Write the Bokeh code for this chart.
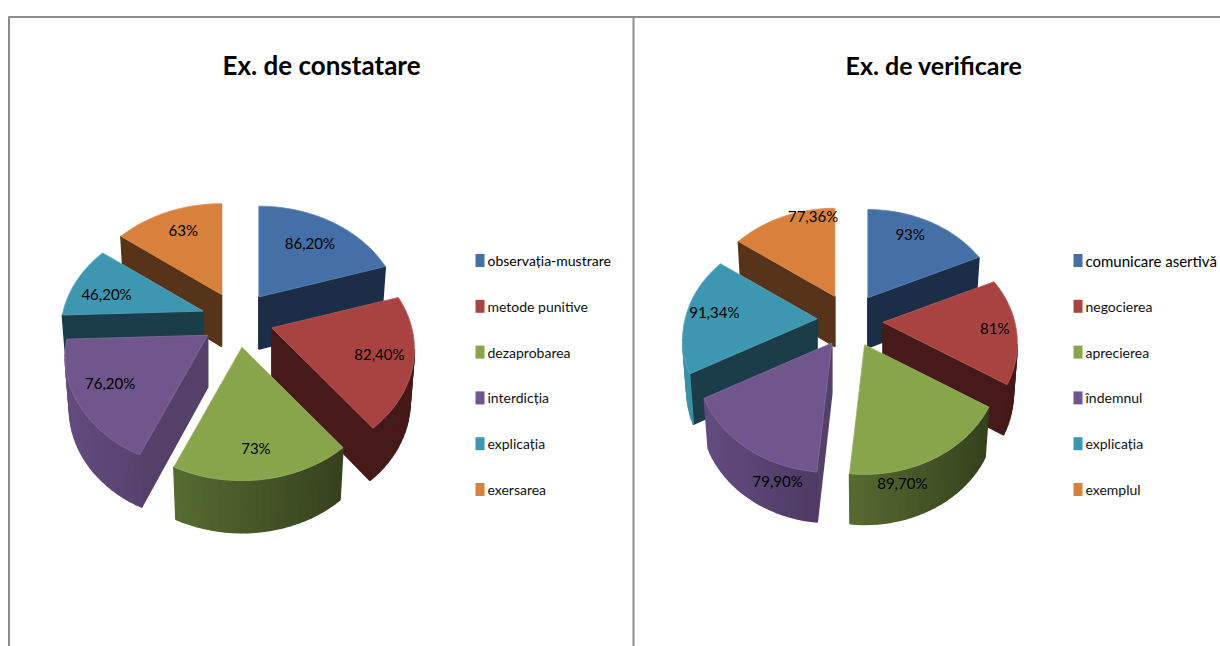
import math
from bokeh.plotting import figure
from bokeh.embed import file_html
from bokeh.resources import INLINE
from bokeh.core.properties import value

# ---- data
title_a = "Ex. de constatare"
cats_a = ["observația-mustrare", "metode punitive", "dezaprobarea", "interdicția", "explicația", "exersarea"]
vals_a = [86.20, 82.40, 73, 76.20, 46.20, 63]
labs_a = ["86,20%", "82,40%", "73%", "76,20%", "46,20%", "63%"]

title_b = "Ex. de verificare"
cats_b = ["comunicare asertivă", "negocierea", "aprecierea", "îndemnul", "explicația", "exemplul"]
vals_b = [93, 81, 89.70, 79.90, 91.34, 77.36]
labs_b = ["93%", "81%", "89,70%", "79,90%", "91,34%", "77,36%"]

# ---- styles
top_col = ["#4570a7", "#a84342", "#88a54c", "#70568c", "#3e97b0", "#d8813d"]
face_col = ["#1b2d47", "#461a19", "#38431e", "#544068", "#1b3d49", "#57331a"]
wall_l = ["#1b2d47", "#461a19", "#566b31", "#634c7f", "#3d90a8", "#57331a"]
wall_r = ["#1b2d47", "#461a19", "#36411d", "#4b3860", "#2f7a90", "#57331a"]
draw_order = [5, 0, 4, 1, 3, 2]
FONT = "Lato"
GRID = "#8c8c8c"

p = figure(width=1220, height=646, x_range=(0, 1220), y_range=(646, 0),
           output_backend="svg", toolbar_location=None, min_border=0,
           outline_line_color=None, background_fill_color="white")
p.axis.visible = False
p.grid.visible = False

# frame
p.line([8, 1220], [16.5, 16.5], line_color=GRID, line_width=2)
p.line([8.5, 8.5], [16, 646], line_color=GRID, line_width=2)
p.line([633, 633], [16, 646], line_color=GRID, line_width=2)


def hexmix(c1, c2, t):
    a = [int(c1[i:i + 2], 16) for i in (1, 3, 5)]
    b = [int(c2[i:i + 2], 16) for i in (1, 3, 5)]
    return "#%02x%02x%02x" % tuple(round(x + (y - x) * t) for x, y in zip(a, b))


def pie(vals, labs, cx, cy, ex, ey, rx, ry, depth, label_r, label_turn):
    k, shrink = 0.19, 0.97
    total = sum(vals)
    edges = [0.0]
    for v in vals:
        edges.append(edges[-1] + v / total * 360)

    def proj(r, deg):
        X = r * math.sin(math.radians(deg))
        Y = r * math.cos(math.radians(deg))
        w = 1 + k * Y
        return rx * X / w, -ry * Y / w, Y

    tx, ty = [], []
    for i in draw_order:
        a0, a1 = edges[i], edges[i + 1]
        mid = (a0 + a1) / 2
        ax = cx + ex * math.sin(math.radians(mid))
        ay = cy - ey * math.cos(math.radians(mid))
        n = max(2, int((a1 - a0) / 2.5))
        angles = [a0 + (a1 - a0) * j / n for j in range(n + 1)]
        top, bot = [(ax, ay)], [(ax, ay + depth)]
        for d in angles:
            dx, dy, Y = proj(1, d)
            top.append((ax + dx, ay + dy))
            bot.append((ax + dx * shrink, ay + dy * shrink + depth * (1 - 0.08 * Y)))
        top.append(top[0])
        bot.append(bot[0])
        xs = [q[0] for q in top]
        xlo, xhi = min(xs), max(xs)
        rim_edges = range(1, len(top) - 2)
        for j in range(len(top) - 1):
            if top[j + 1][0] - top[j][0] >= 0:
                continue  # faces away from the viewer
            if j in rim_edges:
                t = (((top[j][0] + top[j + 1][0]) / 2) - xlo) / max(xhi - xlo, 1)
                col = hexmix(wall_l[i], wall_r[i], t)
            else:
                col = face_col[i]
            qx = [top[j][0], top[j + 1][0], bot[j + 1][0], bot[j][0]]
            qy = [top[j][1], top[j + 1][1], bot[j + 1][1], bot[j][1]]
            p.patch(qx, qy, fill_color=col, line_color=col, line_width=1.5)
        p.patch([q[0] for q in top], [q[1] for q in top], fill_color=top_col[i],
                line_color=hexmix(top_col[i], "#ffffff", 0.15), line_width=0.8)
    for i in range(len(vals)):
        mid = (edges[i] + edges[i + 1]) / 2
        ax = cx + ex * math.sin(math.radians(mid))
        ay = cy - ey * math.cos(math.radians(mid))
        dx, dy, _ = proj(label_r[i], mid + label_turn[i])
        tx.append(ax + dx)
        ty.append(ay + dy)
    p.text(tx, ty, text=labs, text_font=value(FONT), text_font_size="15px",
           text_color="#000000", text_align="center", text_baseline="middle")


pie(vals_a, labs_a, 237, 319, 36, 28, 140, 108, 52,
    [0.68, 0.77, 0.80, 0.76, 0.73, 0.74], [0, 0, 1, 2, -4.5, 2])
pie(vals_b, labs_b, 849.5, 320, 33, 27, 132, 105, 50,
    [0.78, 0.84, 1.08, 1.10, 0.79, 0.92], [-5, 0, 14, -16, 1, 15])

# titles
p.text([321], [64], text=[title_a], text_font=value(FONT), text_font_style="bold",
       text_font_size="26px", text_color="#000000", text_align="center", text_baseline="middle")
p.text([933.5], [64], text=[title_b], text_font=value(FONT), text_font_style="bold",
       text_font_size="25px", text_color="#000000", text_align="center", text_baseline="middle")


def legend(cats, box_x, text_x, first_size):
    n = len(cats)
    ys = [260 + 45.8 * i for i in range(n)]
    p.quad(left=[box_x] * n, right=[box_x + 9] * n,
           top=[y - 6.5 for y in ys], bottom=[y + 6.5 for y in ys],
           fill_color=top_col[:n], line_color=None)
    p.text([text_x], ys[:1], text=cats[:1], text_font=value(FONT), text_font_size=first_size,
           text_color="#000000", text_align="left", text_baseline="middle")
    p.text([text_x] * (n - 1), ys[1:], text=cats[1:], text_font=value(FONT), text_font_size="14px",
           text_color="#111111", text_align="left", text_baseline="middle")


legend(cats_a, 475, 487, "14px")
legend(cats_b, 1073, 1085, "15px")

open("out.html", "w").write(file_html(p, INLINE))
